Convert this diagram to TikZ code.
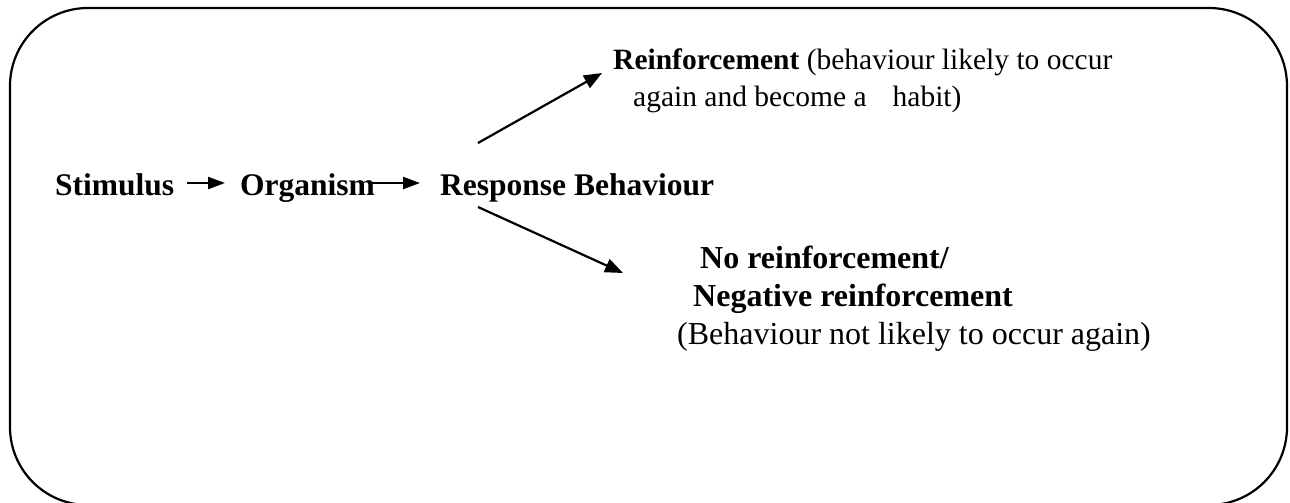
\documentclass[tikz,border=0pt]{standalone}
\usepackage{fontspec}
\setmainfont{Liberation Serif}
\usetikzlibrary{arrows.meta,calc}
\begin{document}
\begin{tikzpicture}[x=1pt,y=-1pt,
  rowtxt/.style={anchor=base west,inner sep=0pt,font=\fontsize{31.5}{36}\selectfont\bfseries},
  toptxt/.style={anchor=base west,inner sep=0pt,font=\fontsize{29.5}{34}\selectfont},
  lowtxt/.style={anchor=base west,inner sep=0pt,font=\fontsize{32}{37}\selectfont},
  arr/.style={line width=2.2pt,-{Triangle[length=18pt,width=14pt]}},
  sarr/.style={line width=2.2pt,-{Triangle[length=17pt,width=12pt]}},
  frame/.style={line width=2.2pt,rounded corners=78pt}]
\useasboundingbox (0,0) rectangle (1290,503);
\draw[frame] (10,8) rectangle (1287,505);
\node[rowtxt] (stim) at (55,195) {Stimulus};
\node[rowtxt] (org) at (240,195) {Organism};
\node[rowtxt] (resp) at (440,195) {Response Behaviour};
\node[toptxt] (reinf) at (613,70) {\textbf{Reinforcement} (behaviour likely to occur};
\node[toptxt] (reinf2) at (633,106) {again and become a\hspace{26pt}habit)};
\node[lowtxt] (noreinf) at (700,268) {\textbf{No reinforcement/}};
\node[lowtxt] (negreinf) at (693,306) {\textbf{Negative reinforcement}};
\node[lowtxt] (notlikely) at (677,344) {(Behaviour not likely to occur again)};
\coordinate (upstart) at ($(resp.base west)+(38,-52)$);
\coordinate (upend) at ($(reinf.base west)+(-11,3)$);
\coordinate (downstart) at ($(resp.base west)+(38,12)$);
\coordinate (downend) at ($(noreinf.base west)+(-77,5)$);
\draw[sarr] ([shift={(13,-12)}]stim.base east) -- ([shift={(-15,-12)}]org.base west);
\draw[sarr] ([shift={(-7,-12)}]org.base east) -- ([shift={(-20,-12)}]resp.base west);
\draw[arr] (upstart) -- (upend);
\draw[arr] (downstart) -- (downend);
\end{tikzpicture}
\end{document}
